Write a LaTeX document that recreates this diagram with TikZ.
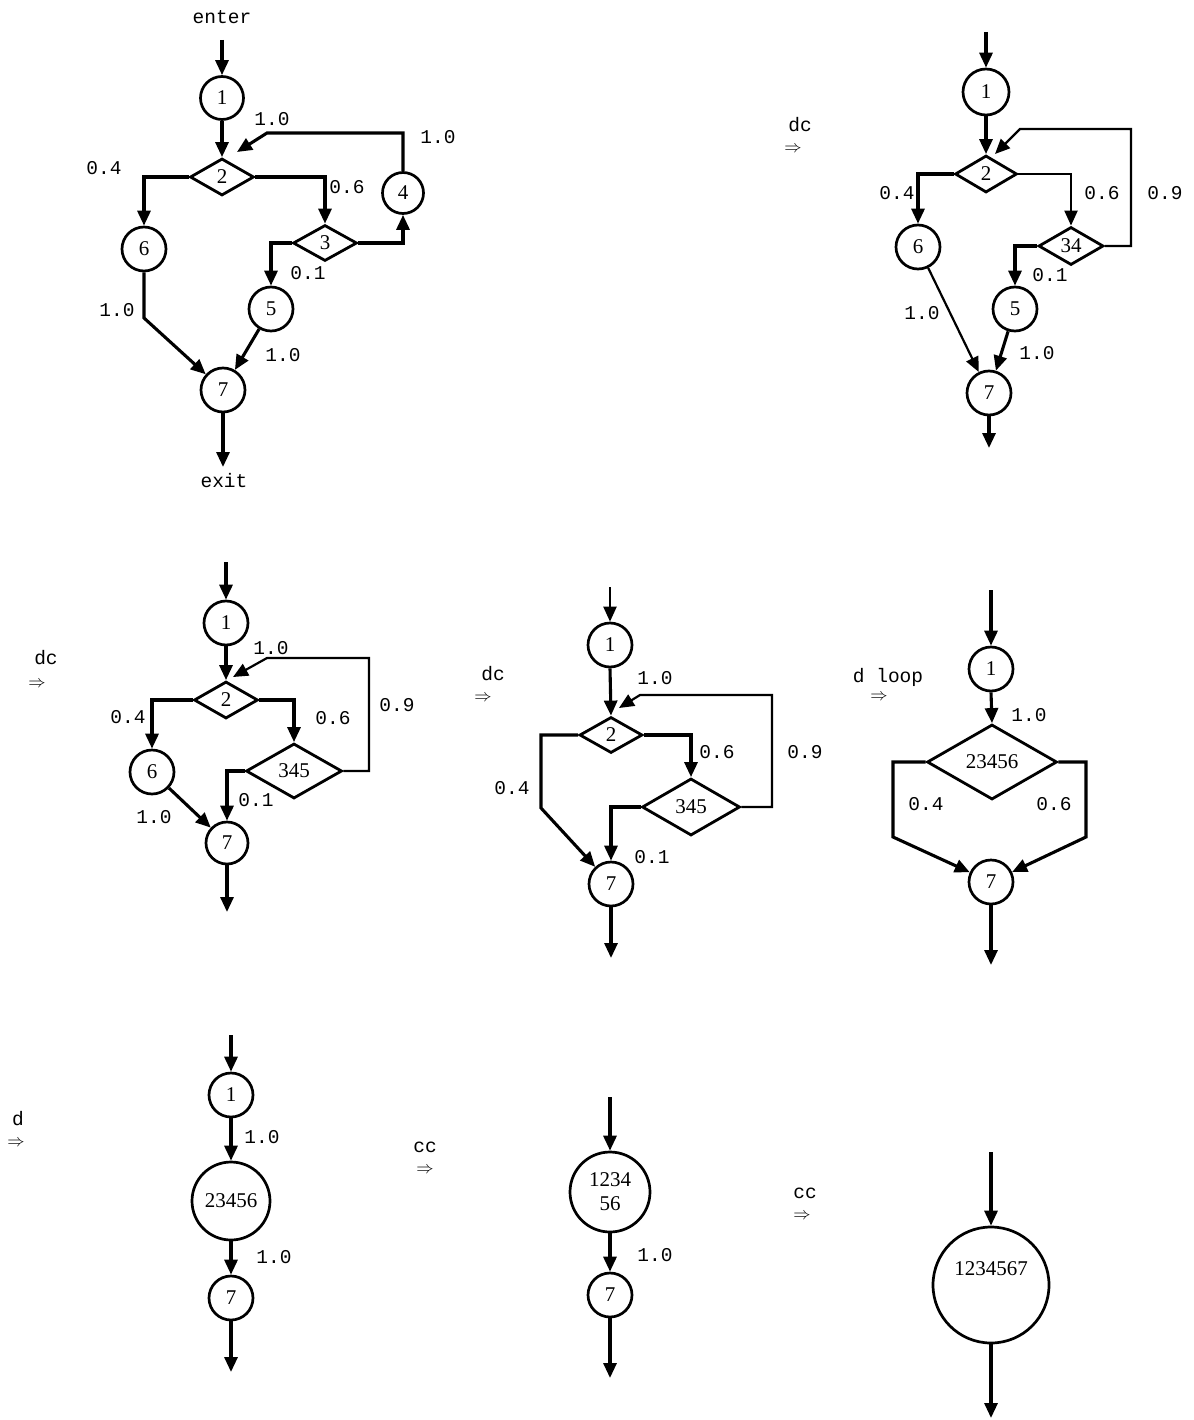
\documentclass[tikz,border=0pt]{standalone}
\usepackage{fontspec}
\usetikzlibrary{arrows.meta,shapes.geometric}
\newfontfamily\lblfont{Liberation Mono}
\newfontfamily\numfont{Liberation Serif}
\tikzset{
  cnode/.style={circle,draw,line width=2.7pt,inner sep=0pt,minimum size=44pt,font=\numfont\fontsize{21}{21}\selectfont},
  dnode/.style={diamond,draw,line width=2.8pt,inner sep=0pt,font=\numfont\fontsize{21}{21}\selectfont},
  edge/.style={line width=3.1pt,-{Triangle[length=15pt,width=13pt]}},
  thinedge/.style={line width=2.2pt,-{Triangle[length=15pt,width=13pt]}},
  lbl/.style={font=\lblfont\fontsize{19.5}{20}\selectfont,inner sep=0pt},
  arr/.style={font=\fontsize{17}{17}\selectfont,inner sep=0pt}
}
\newcommand{\zb}[1]{\makebox[0pt]{#1}}
\begin{document}
\begin{tikzpicture}[x=1pt,y=-1pt]
\useasboundingbox[fill=white] (0,0) rectangle (1193,1420);

% ---------------- Diagram A ----------------
\node[lbl] (Aenter) at (222,17) {enter};
\coordinate (Ain) at (222,40);
\node[cnode,minimum size=43pt] (A1) at (222,98) {1};
\node[dnode,minimum width=64pt,minimum height=37pt] (A2) at (222,177) {\zb{2}};
\node[cnode] (A6) at (144,249) {6};
\node[dnode,minimum width=64pt,minimum height=36pt] (A3) at (325,243) {\zb{3}};
\node[cnode,minimum size=41pt] (A4) at (403,193) {4};
\node[cnode] (A5) at (271,309) {5};
\node[cnode] (A7) at (223,390) {7};
\coordinate (Aout) at (223,467);
\node[lbl] (Aexit) at (224,481) {exit};
\coordinate (Ac1) at (267,133);
\coordinate (Atip) at (237,152);
\coordinate (Ac2) at (144,318);
\draw[edge] (Ain) -- (A1.north);
\draw[edge] (A1.south) -- (A2.north);
\draw[edge] (A2.west) -| (A6.north);
\draw[edge] (A2.east) -| (A3.north);
\draw[edge] (A3.east) -| (A4.south);
\draw[edge] (A4.north) |- (Ac1) -- (Atip);
\draw[edge] (A3.west) -| (A5.north);
\draw[edge] (A6.south) -- (Ac2) -- (A7);
\draw[edge] (A5) -- (A7);
\draw[edge] (A7.south) -- (Aout);
\node[lbl] (Al1) at (272,119) {1.0};
\node[lbl] (Al2) at (438,137) {1.0};
\node[lbl] (Al3) at (104,168) {0.4};
\node[lbl] (Al4) at (347,187) {0.6};
\node[lbl] (Al5) at (308,273) {0.1};
\node[lbl] (Al6) at (117,310) {1.0};
\node[lbl] (Al7) at (283,355) {1.0};

% ---------------- Diagram B ----------------
\node[lbl] (Bdc) at (800,125) {dc};
\node[arr] (Bar) at (793,149) {$\Rightarrow$};
\coordinate (Bin) at (986,32);
\node[cnode,minimum size=46pt] (B1) at (986,92) {1};
\node[dnode,minimum width=62pt,minimum height=37pt] (B2) at (986,174) {\zb{2}};
\node[cnode] (B6) at (918,247) {6};
\node[dnode,minimum width=65pt,minimum height=38pt] (B34) at (1071,246) {\zb{34}};
\node[cnode] (B5) at (1015,309) {5};
\node[cnode] (B7) at (989,393) {7};
\coordinate (Bout) at (989,448);
\coordinate (Bc1) at (1131,129);
\coordinate (Bc2) at (1020,129);
\coordinate (Btip) at (995,154);
\draw[edge] (Bin) -- (B1.north);
\draw[edge] (B1.south) -- (B2.north);
\draw[edge] (B2.west) -| (B6.north);
\draw[thinedge] (B2.east) -| (B34.north);
\draw[thinedge] (B34.east) -| (Bc1) -- (Bc2) -- (Btip);
\draw[edge] (B34.west) -| (B5.north);
\draw[thinedge] (B6) -- (B7);
\draw[edge] (B5) -- (B7);
\draw[edge] (B7.south) -- (Bout);
\node[lbl] (Bl1) at (897,193) {0.4};
\node[lbl] (Bl2) at (1102,193) {0.6};
\node[lbl] (Bl3) at (1165,193) {0.9};
\node[lbl] (Bl4) at (1050,275) {0.1};
\node[lbl] (Bl5) at (922,313) {1.0};
\node[lbl] (Bl6) at (1037,353) {1.0};

% ---------------- Diagram C ----------------
\node[lbl] (Cdc) at (46,658) {dc};
\node[arr] (Car) at (37,684) {$\Rightarrow$};
\coordinate (Cin) at (226,562);
\node[cnode] (C1) at (226,623) {1};
\node[dnode,minimum width=64pt,minimum height=37pt] (C2) at (226,700) {\zb{2}};
\node[cnode] (C6) at (152,772) {6};
\node[dnode,minimum width=96pt,minimum height=55pt] (C345) at (294,771) {\zb{345}};
\node[cnode,minimum size=42pt] (C7) at (227,843) {7};
\coordinate (Cout) at (227,912);
\coordinate (Cc1) at (369,658);
\coordinate (Cc2) at (267,658);
\coordinate (Ctip) at (233,677);
\draw[edge] (Cin) -- (C1.north);
\draw[edge] (C1.south) -- (C2.north);
\draw[edge] (C2.west) -| (C6.north);
\draw[edge] (C2.east) -| (C345.north);
\draw[thinedge] (C345.east) -| (Cc1) -- (Cc2) -- (Ctip);
\draw[edge] (C345.west) -| (C7.north);
\draw[edge] (C6) -- (C7);
\draw[edge] (C7.south) -- (Cout);
\node[lbl] (Cl1) at (271,648) {1.0};
\node[lbl] (Cl2) at (128,717) {0.4};
\node[lbl] (Cl3) at (333,718) {0.6};
\node[lbl] (Cl4) at (397,705) {0.9};
\node[lbl] (Cl5) at (256,800) {0.1};
\node[lbl] (Cl6) at (154,817) {1.0};

% ---------------- Diagram D ----------------
\node[lbl] (Ddc) at (493,674) {dc};
\node[arr] (Dar) at (483,698) {$\Rightarrow$};
\coordinate (Din) at (610,587);
\node[cnode] (D1) at (610,645) {1};
\node[dnode,minimum width=63pt,minimum height=36pt] (D2) at (611,735) {\zb{2}};
\node[dnode,minimum width=98pt,minimum height=57pt] (D345) at (691,807) {\zb{345}};
\node[cnode] (D7) at (611,884) {7};
\coordinate (Dout) at (611,958);
\coordinate (Dc1) at (541,808);
\coordinate (Dc2) at (772,695);
\coordinate (Dc3) at (640,695);
\coordinate (Dtip) at (619,708);
\draw[thinedge] (Din) -- (D1.north);
\draw[edge] (D1.south) -- (D2.north);
\draw[edge] (D2.west) -| (Dc1) -- (D7);
\draw[edge] (D2.east) -| (D345.north);
\draw[thinedge] (D345.east) -| (Dc2) -- (Dc3) -- (Dtip);
\draw[edge] (D345.west) -| (D7.north);
\draw[edge] (D7.south) -- (Dout);
\node[lbl] (Dl1) at (655,678) {1.0};
\node[lbl] (Dl2) at (717,752) {0.6};
\node[lbl] (Dl3) at (805,752) {0.9};
\node[lbl] (Dl4) at (512,788) {0.4};
\node[lbl] (Dl5) at (652,857) {0.1};

% ---------------- Diagram E ----------------
\node[lbl] (Edl) at (888,677) {d loop};
\node[arr] (Ear) at (879,697) {$\Rightarrow$};
\coordinate (Ein) at (991,590);
\node[cnode] (E1) at (991,669) {1};
\node[dnode,minimum width=130pt,minimum height=75pt] (E2) at (992,762) {\zb{23456}};
\node[cnode] (E7) at (991,882) {7};
\coordinate (Eout) at (991,965);
\coordinate (Ec1) at (893,837);
\coordinate (Ec2) at (1086,837);
\draw[edge] (Ein) -- (E1.north);
\draw[edge] (E1.south) -- (E2.north);
\draw[edge] (E2.west) -| (Ec1) -- (E7);
\draw[edge] (E2.east) -| (Ec2) -- (E7);
\draw[edge] (E7.south) -- (Eout);
\node[lbl] (El1) at (1029,715) {1.0};
\node[lbl] (El2) at (926,804) {0.4};
\node[lbl] (El3) at (1054,804) {0.6};

% ---------------- Diagram F ----------------
\node[lbl] (Fd) at (18,1119) {d};
\node[arr] (Far) at (16,1143) {$\Rightarrow$};
\coordinate (Fin) at (231,1035);
\node[cnode] (F1) at (231,1095) {1};
\node[cnode,minimum size=78pt] (F2) at (231,1201) {23456};
\node[cnode] (F7) at (231,1298) {7};
\coordinate (Fout) at (231,1372);
\draw[edge] (Fin) -- (F1.north);
\draw[edge] (F1.south) -- (F2.north);
\draw[edge] (F2.south) -- (F7.north);
\draw[edge] (F7.south) -- (Fout);
\node[lbl] (Fl1) at (262,1137) {1.0};
\node[lbl] (Fl2) at (274,1257) {1.0};

% ---------------- Diagram G ----------------
\node[lbl] (Gcc) at (425,1147) {cc};
\node[arr] (Gar) at (425,1170) {$\Rightarrow$};
\coordinate (Gin) at (610,1097);
\node[cnode,minimum size=80pt,align=center] (G1) at (610,1192) {1234\\[3pt]56};
\node[cnode] (G7) at (610,1295) {7};
\coordinate (Gout) at (610,1378);
\draw[edge] (Gin) -- (G1.north);
\draw[edge] (G1.south) -- (G7.north);
\draw[edge] (G7.south) -- (Gout);
\node[lbl] (Gl1) at (655,1255) {1.0};

% ---------------- Diagram H ----------------
\node[lbl] (Hcc) at (805,1193) {cc};
\node[arr] (Har) at (802,1216) {$\Rightarrow$};
\coordinate (Hin) at (991,1152);
\node[cnode,minimum size=116pt] (H1) at (991,1285) {\raisebox{10pt}[0pt][0pt]{1234567}};
\coordinate (Hout) at (991,1418);
\draw[edge] (Hin) -- (H1.north);
\draw[edge] (H1.south) -- (Hout);
\end{tikzpicture}
\end{document}
